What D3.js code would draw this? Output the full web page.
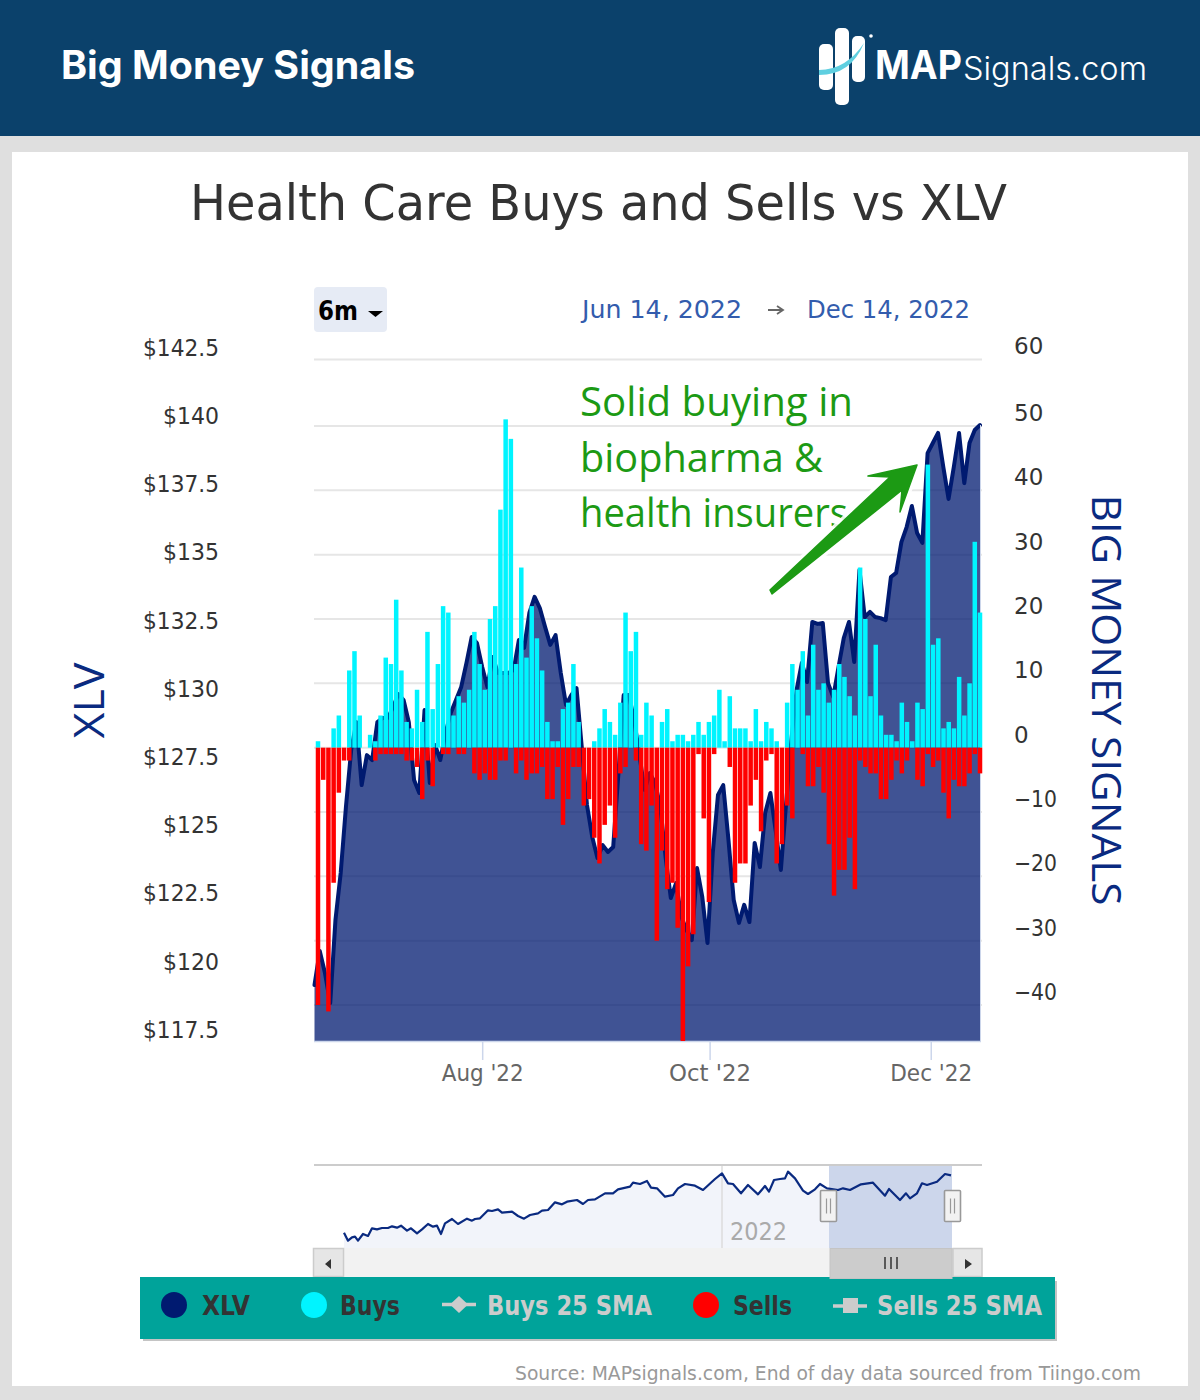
<!DOCTYPE html>
<html><head><meta charset="utf-8">
<script src="https://cdn.jsdelivr.net/npm/d3@7"></script>
<style>html,body{margin:0;padding:0;background:#dfdfdf}svg{display:block}text{font-family:"DejaVu Sans",sans-serif}</style>
</head><body><svg id="c" width="1200" height="1400"></svg>
<script>
const buys=[1,0,0,3,5,0,12,15,5,0,2,1,5,14,13,23,12,4,3,9,4,18,6,13,22,21,5,8,7,9,18,13,9,20,22,37,51,48,13,28,14,22,17,12,4,1,1,6,7,13,4,0,0,1,3,6,4,2,7,21,15,18,2,7,5,0,4,6,1,2,2,1,2,4,2,4,5,9,1,8,3,3,3,1,6,1,4,3,1,0,7,13,9,15,5,16,9,10,7,9,13,11,8,5,28,20,8,16,5,2,2,1,7,4,1,7,6,44,16,17,3,4,3,11,5,10,32,21];
const sells=[40,5,41,21,7,2,2,0,0,0,0,2,1,1,1,1,1,2,2,3,8,2,6,0,1,1,0,1,1,0,4,5,4,5,5,2,2,0,4,2,5,4,4,3,8,8,3,12,8,3,3,9,8,14,18,12,9,14,4,3,0,2,15,16,9,30,16,22,21,28,46,34,29,1,11,24,1,0,0,3,21,18,18,9,5,13,2,1,18,15,9,11,0,1,6,6,3,7,15,23,19,19,14,22,2,3,4,4,8,8,5,2,4,2,0,5,6,1,3,2,7,11,5,6,6,4,1,4];
const xlv=[119.55,120.80,119.99,118.89,121.94,123.66,126.08,128.17,129.19,126.88,127.98,127.80,129.19,129.34,129.34,129.74,130.22,130.0,129.19,127.07,126.59,129.63,126.96,128.35,127.80,128.79,129.52,130.0,130.48,131.36,132.31,132.09,131.21,130.48,131.58,130.99,130.99,130.99,131.1,132.2,131.91,133.19,133.78,133.37,132.68,132.02,132.38,130.99,129.82,130.18,130.44,128.28,126.15,124.98,124.21,124.68,124.43,124.61,127.32,130.18,130.18,129.27,127.98,126.7,127.32,126.96,126.08,124.24,122.74,123.29,122.05,121.57,121.20,123.84,122.78,121.09,124.39,126.52,126.88,124.87,122.67,121.83,122.49,121.86,124.76,123.88,125.86,126.59,125.23,123.77,126.22,128.53,130.37,131.36,130.66,132.86,132.79,132.82,130.62,130.11,131.21,132.27,132.86,131.39,134.77,133.04,133.23,133.04,133.0,132.93,134.51,134.66,135.79,136.34,137.11,136.12,135.76,139.05,139.42,139.79,138.54,137.37,138.54,139.79,137.95,139.42,139.90,140.08];
const navSessions=[1,5,9,12,15,20,25,29,34,39,45,49,54,58,64,68,74,79,85,90,94,98,102,109,115,124,129,132,137,145,149,155,159,169,175,181,187,195,199,205,212,219,224,234,240,245,252,262,270,275,287,290,297,304,308,314,322,330,335,342,352,360,372,379,385,390,398,405,415,422,426,431,437,442,445,452,460,465,472,477,484,495,500,507,518,530,542,546,557,563,567,574,579,584,594,602,608];
const navPrices=[99.63,94.03,96.37,96.83,94.03,98.70,97.30,102.67,101.97,102.90,102.90,104.07,103.13,104.53,101.03,102.67,99.17,101.97,105.70,103.83,104.53,98.70,106.17,109.20,105.70,109.43,108.03,109.20,109.67,115.27,114.80,115.97,113.63,114.33,111.30,109.43,112.0,113.17,115.03,115.5,120.87,119.47,121.33,122.5,119.7,122.5,122.97,127.17,127.17,129.97,131.83,134.63,133.7,135.8,131.13,130.67,124.83,126.0,130.67,133.7,132.53,129.5,137.2,141.17,134.17,133.7,127.17,133.0,126.47,132.3,128.33,136.5,137.2,137.67,142.33,137.67,129.03,126.7,129.97,133.7,130.67,129.5,130.67,129.5,133.47,134.63,125.53,130.2,122.5,127.17,123.67,127.17,134.17,133.0,135.33,140.7,139.77];
const leftTicks=[117.5,120,122.5,125,127.5,130,132.5,135,137.5,140,142.5];
const rightTicks=[-40,-30,-20,-10,0,10,20,30,40,50,60];
const xTickSessions=[32,75.4,117.6];
const xTickLabels=["Aug '22","Oct '22","Dec '22"];
const annotationLines=["Solid buying in","biopharma &","health insurers"];
const legendNames=["XLV","Buys","Buys 25 SMA","Sells","Sells 25 SMA"];
const legendColors=["#001a70","#00f4ff","#cccccc","#ff0000","#cccccc"];

const navy="#001a70";
const svg=d3.select("#c");
const rect=(x,y,w,h,f,r)=>svg.append("rect").attr("x",x).attr("y",y).attr("width",w).attr("height",h).attr("fill",f).attr("rx",r||0);
const txt=(s,x,y,size,fill,len,o={})=>{const t=svg.append("text").attr("x",x).attr("y",y).attr("font-size",size).attr("fill",fill).text(s);
  if(len){t.attr("textLength",len).attr("lengthAdjust","spacingAndGlyphs");}
  if(o.w)t.attr("font-weight",o.w); if(o.f)t.style("font-family",o.f); if(o.a)t.attr("text-anchor",o.a); if(o.t)t.attr("transform",o.t); return t;};

// page
rect(0,0,1200,1400,"#dfdfdf");
rect(12,152,1176,1234,"#ffffff");
rect(0,0,1200,136,"#0b416b");
txt("Big Money Signals",61,79,39,"#fff",354,{w:700,f:"Inter"});
// logo
rect(819,44,14,46,"#fff",5); rect(835,28,14,77,"#fff",5); rect(852,36,13,46,"#fff",5);
svg.append("path").attr("d","M819 70 Q846 70 864 43 Q851 75 819 75Z").attr("fill","#5fcfe0");
svg.append("circle").attr("cx",871).attr("cy",36).attr("r",1.8).attr("fill","#fff");
txt("MAP",875,79,39,"#fff",87,{w:700,f:"Inter"});
txt("Signals.com",963,80,33,"#fff",184,{w:300,f:"Inter"});

// title
txt("Health Care Buys and Sells vs XLV",190,220,50,"#333333",817);

// range selector
rect(314,287,73,45,"#e6ebf5",4);
txt("6m",318,320,26,"#000",40,{w:700});
svg.append("path").attr("d","M368 311h15l-7.500 6z").attr("fill","#000");
txt("Jun 14, 2022",582,318,25,"#335cad",160);
svg.append("path").attr("d","M768 310h14m-5 -4l6 4l-6 4").attr("fill","none").attr("stroke","#666").attr("stroke-width",1.800);
txt("Dec 14, 2022",807,318,25,"#335cad",163);

// scales
const xLine=d3.scaleLinear().domain([0,127]).range([314.500,980]);
const xBar=d3.scaleLinear().domain([0,127]).range([318,980]);
const yLeft=d3.scaleLinear().domain([117.5,142.5]).range([1041,359]);
const yRight=d3.scaleLinear().domain([-40,50,60]).range([1005,426,359.500]);
const barW=4.5;

// grid
svg.append("g").selectAll("line").data(rightTicks).join("line")
 .attr("x1",314).attr("x2",982).attr("y1",d=>yRight(d)).attr("y2",d=>yRight(d))
 .attr("stroke","#e6e6e6").attr("stroke-width",2);

// area + line
const sessions=d3.range(xlv.length);
svg.append("path").datum(sessions)
 .attr("d",d3.area().x(i=>xLine(i)).y0(1041).y1(i=>yLeft(xlv[i])))
 .attr("fill",navy).attr("fill-opacity",.75);
svg.append("path").datum(sessions)
 .attr("d",d3.line().x(i=>xLine(i)).y(i=>yLeft(xlv[i])))
 .attr("fill","none").attr("stroke",navy).attr("stroke-width",4).attr("stroke-linejoin","round").attr("stroke-linecap","round");
svg.append("line").attr("x1",314).attr("x2",981).attr("y1",1041.500).attr("y2",1041.500).attr("stroke","#ccd6eb").attr("stroke-width",1.500);
svg.append("line").attr("x1",980.500).attr("x2",980.500).attr("y1",yLeft(xlv[127])).attr("y2",1041).attr("stroke","#ccd6eb").attr("stroke-width",1);

// bars
svg.append("g").selectAll("rect").data(buys).join("rect")
 .attr("x",(d,i)=>xBar(i)-barW/2).attr("width",barW)
 .attr("y",d=>yRight(d)).attr("height",d=>yRight(0)-yRight(d)).attr("fill","#00f4ff");
svg.append("g").selectAll("rect").data(sells).join("rect")
 .attr("x",(d,i)=>xBar(i)-barW/2).attr("width",barW)
 .attr("y",yRight(0)).attr("height",d=>Math.min(yRight(-d),1041)-yRight(0)).attr("fill","#ff0000");

// x axis
const xAxis=d3.axisBottom(xLine).tickValues(xTickSessions).tickFormat((d,i)=>xTickLabels[i]).tickSize(19).tickPadding(5);
const gx=svg.append("g").attr("transform","translate(0,1041)").call(xAxis);
gx.select(".domain").remove();
gx.selectAll(".tick line").attr("stroke","#ccd6eb").attr("stroke-width",1.500);
gx.selectAll(".tick text").attr("font-size",23).attr("fill","#666").style("font-family","DejaVu Sans").attr("textLength",82).attr("lengthAdjust","spacingAndGlyphs");

// y axes
const gl=svg.append("g").attr("transform","translate(219,0)").call(d3.axisLeft(yLeft).tickValues(leftTicks).tickSize(0).tickPadding(0).tickFormat(d=>"$"+d));
gl.select(".domain").remove();
gl.selectAll("text").attr("font-size",23).attr("fill","#333").attr("dy","-0.16em").style("font-family","DejaVu Sans").each(function(d){d3.select(this).attr("textLength",Number.isInteger(d)?56:76).attr("lengthAdjust","spacingAndGlyphs");});
const gr=svg.append("g").attr("transform","translate(1014,0)").call(d3.axisRight(yRight).tickValues(rightTicks).tickSize(0).tickPadding(0).tickFormat(d=>d<0?"\u2212"+(-d):""+d));
gr.select(".domain").remove();
gr.selectAll("text").attr("font-size",23).attr("fill","#333").attr("dy","-0.24em").style("font-family","DejaVu Sans").each(function(d){if(d<0)d3.select(this).attr("textLength",43).attr("lengthAdjust","spacingAndGlyphs");});

// axis titles
txt("XLV",0,0,42,"#0a2a80",76,{f:"Open Sans",a:"middle",t:"translate(103.500,700.500) rotate(-90)"});
txt("BIG MONEY SIGNALS",0,0,40,"#0a2a80",411,{f:"Open Sans",a:"middle",t:"translate(1092,700) rotate(90)"});

// annotation
annotationLines.forEach((s,i)=>txt(s,580,[416,472,527][i],41,"#1c9a14",[273,243,268][i],{f:"Open Sans"}));
const arrowPts="772,594 902,490 900,512 917,465 868,476 890,477 770,590";
svg.append("polygon").attr("points",arrowPts).attr("fill","#fff").attr("stroke","#fff").attr("stroke-width",8).attr("stroke-linejoin","round").attr("opacity",.9);
svg.append("polygon").attr("points",arrowPts).attr("fill","#1c9a14").attr("stroke","#1c9a14").attr("stroke-width",1.500).attr("stroke-linejoin","round");

// navigator
const xNav=d3.scaleLinear().domain([0,609]).range([343,952]);
const yNav=d3.scaleLinear().domain([94,140]).range([1240.700,1175]);
svg.append("line").attr("x1",314).attr("x2",982).attr("y1",1165).attr("y2",1165).attr("stroke","#cccccc").attr("stroke-width",2);
svg.append("path").datum(navSessions).attr("d",d3.area().x(d=>xNav(d)).y0(1248).y1((d,i)=>yNav(navPrices[i]))).attr("fill","#f2f4fa");
rect(829,1166,123,82,"#ccd6eb");
svg.append("line").attr("x1",722).attr("x2",722).attr("y1",1166).attr("y2",1248).attr("stroke","#dddddd").attr("stroke-width",1.500);
txt("2022",730,1240,24,"#aaaaaa",57);
svg.append("path").datum(navSessions).attr("d",d3.line().x(d=>xNav(d)).y((d,i)=>yNav(navPrices[i]))).attr("fill","none").attr("stroke","#0a2a80").attr("stroke-width",2.200).attr("stroke-linejoin","round");
// scrollbar
rect(343,1248,610,29,"#f2f2f2");
rect(313.500,1248.500,30,28,"#e6e6e6").attr("stroke","#cccccc").attr("stroke-width",1.500);
rect(953,1248.500,29,28,"#e6e6e6").attr("stroke","#cccccc").attr("stroke-width",1.500);
// legend box sits below the scrollbar thumb
rect(143,1281,914,60,"#c4c4c4");
rect(140,1277,915,62,"#00a39a");
rect(830,1248.500,122,30,"#cccccc").attr("stroke","#c4c4c4");
svg.append("path").attr("d","M331 1259v10l-6-5z M965 1259v10l7-5z").attr("fill","#333");
svg.append("path").attr("d","M885 1257v12M891 1257v12M897 1257v12").attr("stroke","#333").attr("stroke-width",1.500);
[[820.500,1190.500],[944.500,1190.500]].forEach(([x,y])=>{
 rect(x,y,16,31,"#f2f2f2",1).attr("stroke","#999").attr("stroke-width",1.600);
 svg.append("path").attr("d",`M${x+6} ${y+8}v15M${x+10} ${y+8}v15`).attr("stroke","#999").attr("stroke-width",1.200);
});

// legend
const lx=[202,340,487,733,877], ll=[48,60,165,59,165], dark=["#333","#333","#ccc","#333","#ccc"];
legendNames.forEach((n,i)=>txt(n,lx[i],1315,26,dark[i],ll[i],{w:600}));
[[174,0],[314,1],[706,3]].forEach(([x,i])=>svg.append("circle").attr("cx",x).attr("cy",1305).attr("r",13).attr("fill",legendColors[i]));
svg.append("path").attr("d","M442 1304.500h34").attr("stroke",legendColors[2]).attr("stroke-width",3.500);
svg.append("path").attr("d","M459 1296l9 8.500l-9 8.500l-9-8.500z").attr("fill",legendColors[2]);
svg.append("path").attr("d","M833 1306h34").attr("stroke",legendColors[4]).attr("stroke-width",3.500);
rect(843,1298,15,15,legendColors[4]);

// source
txt("Source: MAPsignals.com, End of day data sourced from Tiingo.com",515,1380,19,"#999999",626);
</script></body></html>
